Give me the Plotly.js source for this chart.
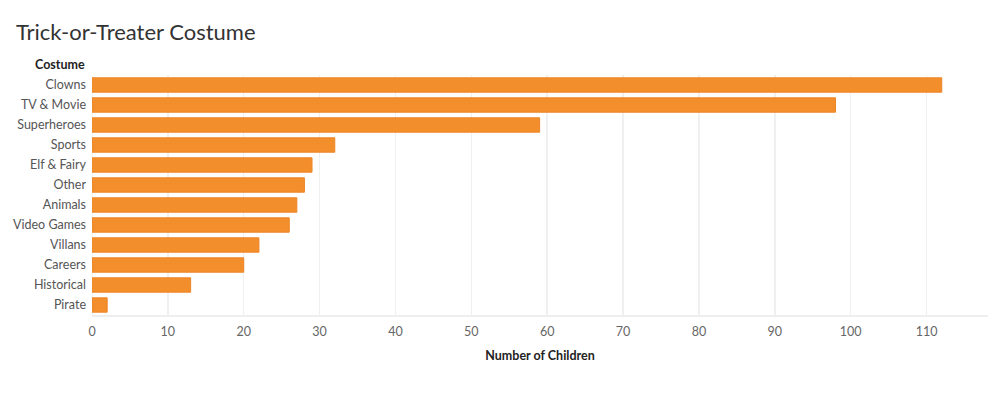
<!DOCTYPE html>
<html>
<head>
<meta charset="utf-8">
<script src="https://cdn.plot.ly/plotly-3.0.1.min.js"></script>
<style>html,body{margin:0;padding:0;background:#fff;}#chart{width:1000px;height:400px;}</style>
</head>
<body>
<div id="chart"></div>
<script>
const categories = ["Clowns","TV & Movie","Superheroes","Sports","Elf & Fairy","Other","Animals","Video Games","Villans","Careers","Historical","Pirate"];
const children = [112, 98, 59, 32, 29, 28, 27, 26, 22, 20, 13, 2];
const xTicks = [0,10,20,30,40,50,60,70,80,90,100,110];

const font = "Lato, 'Open Sans', sans-serif";

const trace = {
  type: 'bar',
  orientation: 'h',
  x: children,
  y: categories,
  marker: {color: '#F28E2B', line: {color: '#EE8526', width: 1}},
  width: 0.72,
  hoverinfo: 'x+y'
};

const layout = {
  width: 1000, height: 400,
  margin: {l: 92, r: 12, t: 75, b: 85},
  paper_bgcolor: '#fff', plot_bgcolor: '#fff',
  font: {family: font, color: '#555', size: 12},
  showlegend: false,
  title: {
    text: 'Trick-or-Treater Costume',
    font: {family: font, size: 22, color: '#333'},
    xref: 'container', x: 0.016, xanchor: 'left',
    yref: 'container', y: 0.9, yanchor: 'bottom'
  },
  xaxis: {
    range: [0, 118.1],
    tickvals: xTicks,
    ticktext: xTicks.map(String),
    showgrid: true, gridcolor: '#f0f0f0', gridwidth: 1.5,
    zeroline: false,
    showline: true, linecolor: '#eeeeee', linewidth: 1.5,
    ticks: '', ticklabelstandoff: 4,
    tickfont: {family: font, size: 12.5, color: '#666'},
    title: {text: 'Number of Children', font: {family: font, size: 12.5, color: '#222', weight: 'bold'}, standoff: 13},
    fixedrange: true
  },
  yaxis: {
    categoryorder: 'array', categoryarray: categories,
    autorange: 'reversed',
    showgrid: false, zeroline: false, showline: false,
    ticks: '', ticklabelstandoff: 5,
    tickfont: {family: font, size: 12.5, color: '#555'},
    fixedrange: true
  },
  shapes: [{
    type: 'line', xref: 'x', yref: 'paper', x0: 0, x1: 0, y0: 0, y1: 1,
    line: {color: '#f0f0f0', width: 1.5}, layer: 'below'
  }],
  annotations: [{
    text: '<b>Costume</b>', xref: 'paper', yref: 'paper', x: 0, y: 1,
    xanchor: 'right', yanchor: 'bottom', xshift: -5, yshift: 1, showarrow: false,
    font: {family: font, size: 12.5, color: '#222'}
  }]
};

Plotly.newPlot('chart', [trace], layout, {displayModeBar: false, staticPlot: true});
</script>
</body>
</html>
